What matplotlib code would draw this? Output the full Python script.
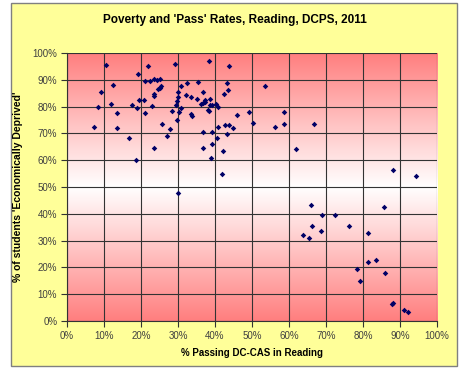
import matplotlib
matplotlib.use('Agg')
import matplotlib.pyplot as plt
import numpy as np
from matplotlib.colors import LinearSegmentedColormap
from matplotlib.patches import Rectangle
from matplotlib.ticker import PercentFormatter

# % passing DC-CAS reading vs % economically deprived (per school)
pass_rate = [
    10.6, 21.8, 29.3, 38.4, 43.9, 19.2, 12.5, 9.3, 11.8, 8.5,
    13.4, 7.4, 13.4, 16.8, 18.7, 17.6, 18.9, 19.5, 20.7, 21.0,
    21.2, 22.5, 23.6, 24.3, 25.1, 25.5, 25.1, 24.5, 23.6, 23.6,
    23.0, 25.7, 27.8, 23.5, 26.9, 28.3, 29.6, 29.5, 29.6, 30.1,
    29.9, 30.8, 30.7, 30.3, 32.4, 32.1, 33.5, 35.3, 36.7, 35.2,
    33.4, 33.9, 36.1, 36.7, 37.2, 37.3, 38.6, 38.6, 39.1, 40.2,
    38.0, 38.4, 40.8, 42.5, 43.6, 43.3, 45.9, 49.1, 50.2, 36.8,
    39.2, 40.9, 42.7, 43.8, 44.8, 43.2, 40.5, 39.3, 36.8, 42.2,
    38.9, 42.0, 30.1, 53.6, 58.6, 58.6, 56.3, 66.7, 61.8, 88.2,
    94.3, 65.9, 68.8, 72.5, 66.3, 68.6, 63.8, 65.3, 76.2, 81.4,
    85.7, 81.4, 83.6, 78.4, 79.2, 86.0, 87.8, 88.0, 91.2, 92.2,
]
deprived = [
    95.7, 95.3, 95.9, 97.1, 95.0, 92.3, 88.2, 85.3, 81.1, 79.9,
    77.5, 72.4, 71.9, 68.3, 60.0, 80.6, 79.6, 82.3, 82.3, 77.5,
    89.4, 89.4, 90.2, 89.8, 90.3, 87.7, 87.1, 86.5, 84.7, 83.8,
    80.3, 73.6, 71.6, 64.4, 69.1, 78.5, 74.9, 80.5, 82.0, 83.6,
    85.6, 87.6, 79.5, 78.0, 88.8, 84.4, 83.7, 89.3, 85.4, 82.7,
    77.2, 76.4, 80.9, 81.2, 81.6, 82.6, 82.7, 80.7, 80.5, 81.1,
    78.8, 78.4, 79.7, 84.7, 86.2, 88.7, 76.9, 78.1, 74.0, 70.5,
    70.5, 72.4, 73.2, 73.2, 71.9, 69.9, 68.4, 65.9, 64.4, 63.4,
    60.8, 55.0, 47.9, 87.6, 77.8, 73.6, 72.5, 73.4, 64.1, 56.5,
    54.0, 43.4, 39.7, 39.7, 35.4, 33.7, 32.1, 31.0, 35.6, 32.9,
    42.6, 22.0, 22.6, 19.3, 14.9, 17.8, 6.3, 6.7, 4.2, 3.2,
]

ticks = np.arange(0, 101, 10)

fig = plt.figure(figsize=(4.7, 3.68), dpi=100)
fig.patch.set_facecolor('white')
# yellow chart area with gray border
fig.patches.append(Rectangle((11 / 470, 2 / 368), 446 / 470, 363 / 368,
                             transform=fig.transFigure, facecolor='#FFFF99',
                             edgecolor='#808080', linewidth=1.0, zorder=-5))

ax = fig.add_axes([67 / 470, 1 - 321 / 368, 370 / 470, 268 / 368])
ax.set_zorder(2)

# red-white-red vertical gradient in the plot area
cmap = LinearSegmentedColormap.from_list('rwr', ['#FF7F7F', '#FFFFFF', '#FF7F7F'])
grad = np.linspace(0, 1, 256).reshape(-1, 1)
ax.imshow(grad, cmap=cmap, extent=[0, 100, 0, 100], aspect='auto',
          origin='lower', zorder=0)

ax.scatter(pass_rate, deprived, marker='D', s=8, color='#000066',
           linewidths=0, zorder=3)

ax.set_xlim(0, 100)
ax.set_ylim(0, 100)
ax.set_xticks(ticks)
ax.set_yticks(ticks)
ax.xaxis.set_major_formatter(PercentFormatter(decimals=0))
ax.yaxis.set_major_formatter(PercentFormatter(decimals=0))
ax.grid(True, color='#333333', linewidth=0.8, zorder=1)
ax.set_axisbelow(False)
for side in ['top', 'right']:
    ax.spines[side].set_visible(False)
for side in ['left', 'bottom']:
    ax.spines[side].set_color('#333333')
    ax.spines[side].set_linewidth(0.8)
ax.tick_params(length=4, width=0.8, color='#333333', labelsize=7,
               labelcolor='#404040', pad=3)
for lbl in ax.get_xticklabels() + ax.get_yticklabels():
    lbl.set_family('Liberation Sans')

fig.text(0.5, 1 - 20 / 368, "Poverty and 'Pass' Rates, Reading, DCPS, 2011",
         ha='center', va='center', fontsize=8.5, fontweight='bold',
         family='Liberation Sans')
ax.set_xlabel('% Passing DC-CAS in Reading', fontsize=7, fontweight='bold',
              family='Liberation Sans', labelpad=5)
ax.set_ylabel("% of students 'Economically Deprived'", fontsize=7.5,
              fontweight='bold', family='Liberation Sans', labelpad=7)

plt.savefig('out.png', dpi=100)
plt.close()
